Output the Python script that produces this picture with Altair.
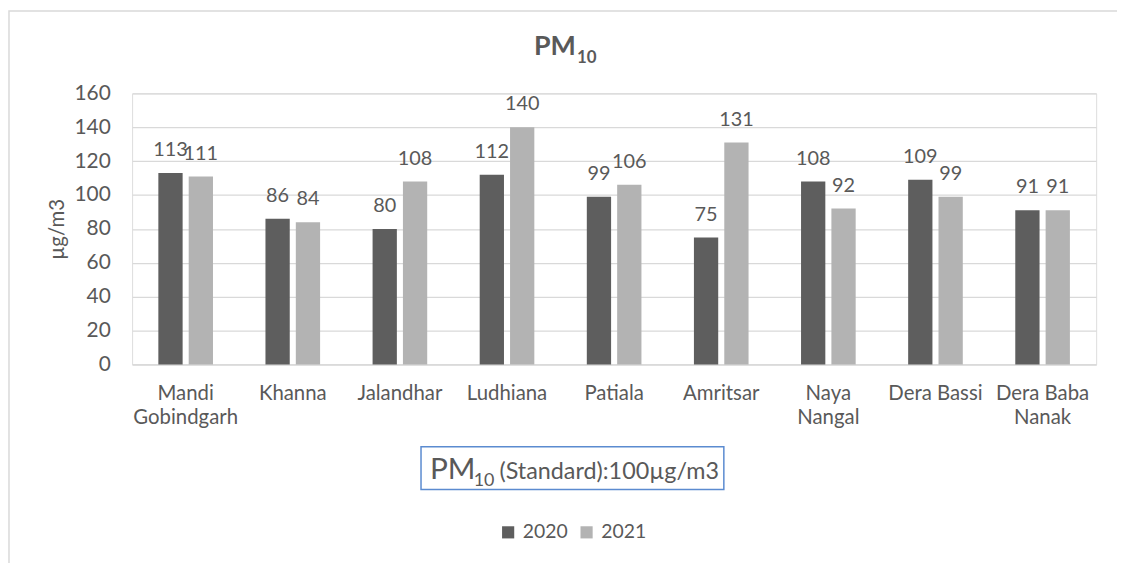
import altair as alt
import pandas as pd

categories = ["Mandi Gobindgarh", "Khanna", "Jalandhar", "Ludhiana", "Patiala",
              "Amritsar", "Naya Nangal", "Dera Bassi", "Dera Baba Nanak"]
years = ["2020", "2021"]
pm_2020 = [113, 86, 80, 112, 99, 75, 108, 109, 91]
pm_2021 = [111, 84, 108, 140, 106, 131, 92, 99, 91]
label_lines = {
    "Mandi Gobindgarh": ["Mandi", "Gobindgarh"],
    "Naya Nangal": ["Naya", "Nangal"],
    "Dera Baba Nanak": ["Dera Baba", "Nanak"],
}
y_ticks = [0, 20, 40, 60, 80, 100, 120, 140, 160]
y_title = "µg/m3"
colors = ["#5e5e5e", "#b3b3b3"]

rows = []
for i, c in enumerate(categories):
    rows.append({"city": c, "year": years[0], "value": pm_2020[i]})
    rows.append({"city": c, "year": years[1], "value": pm_2021[i]})
df = pd.DataFrame(rows)

expr = "datum.label"
for k, v in label_lines.items():
    expr = f"datum.label == '{k}' ? {v} : (" + expr + ")"

FONT = "Lato"
TXT = "#595959"
W, H = 971, 273

x_enc = alt.X("city:N", sort=categories, title=None,
              scale=alt.Scale(paddingInner=0.49, paddingOuter=0.245),
              axis=alt.Axis(labelAngle=0, labelExpr=expr, labelFontSize=20.5,
                            labelColor=TXT, labelFont=FONT, ticks=False,
                            domainColor="#d9d9d9", domainWidth=1.3,
                            labelPadding=19, labelLineHeight=25,
                            labelBaseline="top"))
xo_enc = alt.XOffset("year:N", sort=years,
                     scale=alt.Scale(paddingInner=0.2, paddingOuter=0))
y_enc = alt.Y("value:Q", title=None,
              scale=alt.Scale(domain=[0, 160], nice=False),
              axis=alt.Axis(values=y_ticks, labelOverlap=False))

base = alt.Chart(df)
bars = base.mark_bar().encode(
    x=x_enc, xOffset=xo_enc, y=y_enc,
    color=alt.Color("year:N", sort=years,
                    scale=alt.Scale(domain=years, range=colors),
                    legend=alt.Legend(title=None, orient="none", direction="horizontal",
                                      legendX=369, legendY=432, symbolType="square",
                                      symbolSize=150, symbolStrokeWidth=0,
                                      labelFontSize=19.5, labelFont=FONT, labelColor=TXT,
                                      columnPadding=9, padding=0, labelOffset=5)),
)
labels = base.mark_text(font=FONT, fontSize=20, color=TXT, baseline="alphabetic",
                        dy=-17).encode(
    x=x_enc, xOffset=xo_enc, y=y_enc, text="value:Q")

one = alt.Data(values=[{"a": 1}])
ytitle = alt.Chart(one).mark_text(text=y_title, font=FONT, fontSize=20.5, color=TXT,
                                  angle=270, align="center", baseline="middle").encode(
    x=alt.value(-75), y=alt.value(137))
border = alt.Chart(one).mark_rect(fill=None, stroke="#d9d9d9", strokeWidth=1.5).encode(
    x=alt.value(-124), x2=alt.value(1000), y=alt.value(-83), y2=alt.value(600))
title_pm = alt.Chart(one).mark_text(text="PM", font=FONT, fontSize=27, fontWeight="bold",
                                    color=TXT, align="right", baseline="alphabetic").encode(
    x=alt.value(447), y=alt.value(-39))
title_sub = alt.Chart(one).mark_text(text="10", font=FONT, fontSize=17, fontWeight="bold",
                                     color=TXT, align="left", baseline="alphabetic").encode(
    x=alt.value(448), y=alt.value(-31))
box = alt.Chart(one).mark_rect(fill="white", stroke="#5b8bd0", strokeWidth=1.5).encode(
    x=alt.value(291), x2=alt.value(596), y=alt.value(356), y2=alt.value(399))
box_pm = alt.Chart(one).mark_text(text="PM", font=FONT, fontSize=30, color=TXT,
                                  align="left", baseline="alphabetic").encode(
    x=alt.value(300), y=alt.value(388))
box_sub = alt.Chart(one).mark_text(text="10", font=FONT, fontSize=18, color=TXT,
                                   align="left", baseline="alphabetic").encode(
    x=alt.value(344), y=alt.value(395))
box_rest = alt.Chart(one).mark_text(text="(Standard):100µg/m3", font=FONT, fontSize=23.5,
                                    color=TXT, align="left", baseline="alphabetic").encode(
    x=alt.value(370), y=alt.value(388))

chart = alt.layer(bars, labels, ytitle, border, title_pm, title_sub, box, box_pm, box_sub,
                  box_rest).properties(
    width=W, height=H,
    autosize=alt.AutoSizeParams(type="none"),
    padding={"left": 125, "top": 84, "right": 21, "bottom": 198},
).configure_view(stroke=None).configure(background="white").configure_axisY(
    labelFontSize=21, labelFont=FONT, labelColor=TXT,
    labelPadding=22, ticks=False, domain=False, gridColor="#d9d9d9", gridWidth=1.3,
    tickCount=9)

chart.save("out.html", embed_options={"renderer": "svg", "actions": False})
